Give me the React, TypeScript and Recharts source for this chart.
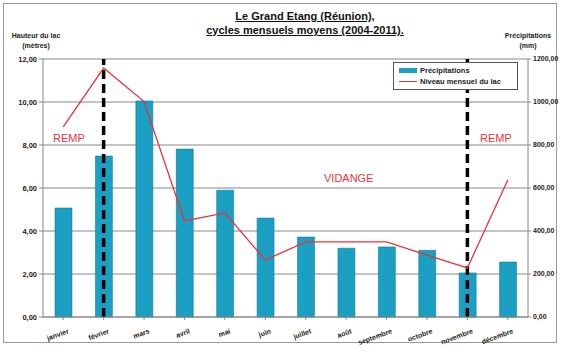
import React from "react";
import {
  ComposedChart,
  Bar,
  Line,
  XAxis,
  YAxis,
  CartesianGrid,
  ReferenceLine,
} from "recharts";

if (typeof document !== "undefined") {
  document.body.style.margin = "0";
}

const months = [
  "janvier", "février", "mars", "avril", "mai", "juin",
  "juillet", "août", "septembre", "octobre", "novembre", "décembre",
];
const precipitations = [507, 749, 1005, 781, 590, 460, 372, 320, 326, 310, 205, 256];
const niveau = [8.84, 11.58, 10.02, 4.47, 4.84, 2.65, 3.49, 3.49, 3.49, 2.88, 2.28, 6.37];
const leftTicks = [0, 2, 4, 6, 8, 10, 12];
const rightTicks = [0, 200, 400, 600, 800, 1000, 1200];
const remplissageMonths = ["février", "novembre"];

const data = months.map((m, i) => ({
  month: m,
  precip: precipitations[i],
  niveau: niveau[i],
}));

const FONT = "'Liberation Sans', Arial, sans-serif";
const BAR = "#1b9fc2";
const RED = "#e8343a";

const fmt = (v: number) => v.toFixed(2).replace(".", ",");

const MonthTick = (props: any) => {
  const { x, y, payload } = props;
  return (
    <text
      x={x + 6}
      y={y + 11}
      textAnchor="end"
      transform={`rotate(-20, ${x + 6}, ${y + 11})`}
      fontFamily={FONT}
      fontSize={7}
      fontWeight="bold"
      fill="#222"
    >
      {payload.value}
    </text>
  );
};

export default function App() {
  return (
    <div style={{ position: "relative", width: 561, height: 352, background: "#fff" }}>
      <div
        style={{
          position: "absolute",
          left: 3,
          top: 3,
          width: 554,
          height: 340,
          border: "1px solid #999",
          boxSizing: "border-box",
        }}
      />
      <ComposedChart
        width={561}
        height={352}
        data={data}
        margin={{ top: 59, right: 0, bottom: 0, left: 0 }}
        style={{ position: "absolute", left: 0, top: 0 }}
      >
        <CartesianGrid vertical={false} stroke="#888" yAxisId="left" />
        <XAxis
          dataKey="month"
          height={35}
          tick={<MonthTick />}
          tickLine={{ stroke: "#888" }}
          axisLine={{ stroke: "#888" }}
          interval={0}
          tickSize={3}
        />
        <YAxis
          yAxisId="left"
          orientation="left"
          width={43}
          domain={[0, 12]}
          ticks={leftTicks}
          tickFormatter={fmt}
          tick={{ fontFamily: FONT, fontSize: 7.5, fontWeight: "bold", fill: "#222" }}
          tickLine={{ stroke: "#888" }}
          axisLine={{ stroke: "#888" }}
          tickSize={4}
        />
        <YAxis
          yAxisId="right"
          orientation="right"
          width={33}
          domain={[0, 1200]}
          ticks={rightTicks}
          tickFormatter={fmt}
          tick={{ fontFamily: FONT, fontSize: 7, fontWeight: "bold", fill: "#222" }}
          tickLine={{ stroke: "#888" }}
          axisLine={{ stroke: "#888" }}
          tickSize={3}
        />
        <Bar
          yAxisId="right"
          dataKey="precip"
          fill={BAR}
          stroke="#0d6c86"
          strokeWidth={0.5}
          barSize={17}
          isAnimationActive={false}
        />
        {remplissageMonths.map((m) => (
          <ReferenceLine
            key={m}
            x={m}
            yAxisId="left"
            stroke="#000"
            strokeWidth={3.5}
            strokeDasharray="9 5"
          />
        ))}
        <Line
          yAxisId="left"
          dataKey="niveau"
          stroke={RED}
          strokeWidth={1.3}
          dot={false}
          type="linear"
          isAnimationActive={false}
        />
      </ComposedChart>

      {/* Title */}
      <div
        style={{
          position: "absolute",
          left: 180,
          width: 250,
          top: 9,
          textAlign: "center",
          fontFamily: FONT,
          fontWeight: "bold",
          fontSize: 11,
          lineHeight: "14px",
          textDecoration: "underline",
          color: "#111",
        }}
      >
        Le Grand Etang (Réunion),
        <br />
        cycles mensuels moyens (2004-2011).
      </div>

      {/* Axis titles */}
      <div
        style={{
          position: "absolute",
          left: 4,
          width: 64,
          top: 31,
          textAlign: "center",
          fontFamily: FONT,
          fontWeight: "bold",
          fontSize: 7,
          lineHeight: "10px",
          color: "#222",
        }}
      >
        Hauteur du lac
        <br />
        (mètres)
      </div>
      <div
        style={{
          position: "absolute",
          left: 496,
          width: 64,
          top: 31,
          textAlign: "center",
          fontFamily: FONT,
          fontWeight: "bold",
          fontSize: 7,
          lineHeight: "10px",
          color: "#222",
        }}
      >
        Précipitations
        <br />
        (mm)
      </div>

      {/* Legend */}
      <div
        style={{
          position: "absolute",
          left: 393,
          top: 62,
          width: 125,
          height: 28,
          border: "1px solid #555",
          background: "#fff",
          boxSizing: "border-box",
          fontFamily: FONT,
          fontWeight: "bold",
          fontSize: 7.5,
          color: "#222",
          padding: "2px 0 0 5px",
          lineHeight: "11px",
        }}
      >
        <div style={{ display: "flex", alignItems: "center" }}>
          <span style={{ display: "inline-block", width: 18, height: 5, background: BAR, marginRight: 3 }} />
          Précipitations
        </div>
        <div style={{ display: "flex", alignItems: "center" }}>
          <span style={{ display: "inline-block", width: 18, height: 1.3, background: RED, marginRight: 3 }} />
          Niveau mensuel du lac
        </div>
      </div>

      {/* Annotations */}
      <div style={{ position: "absolute", left: 53, top: 132, fontFamily: FONT, fontSize: 11, color: RED }}>
        REMP
      </div>
      <div style={{ position: "absolute", left: 324, top: 172, fontFamily: FONT, fontSize: 11, color: RED }}>
        VIDANGE
      </div>
      <div style={{ position: "absolute", left: 480, top: 132, fontFamily: FONT, fontSize: 11, color: RED }}>
        REMP
      </div>
    </div>
  );
}
